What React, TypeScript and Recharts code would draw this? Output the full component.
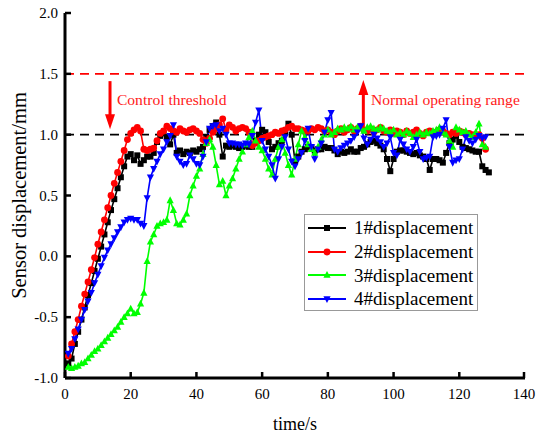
import React from 'react';
import { LineChart, Line, XAxis, YAxis, ReferenceLine, ReferenceDot, Legend } from 'recharts';

const FONT = '"Times New Roman", "Liberation Serif", Tinos, "DejaVu Serif", serif';

const startTime = 1;

const seriesNames = ['1#displacement', '2#displacement', '3#displacement', '4#displacement'];
const seriesColors = ['#000000', '#ff0000', '#00ff00', '#0000ff'];

const disp1 = [
  -0.88, -0.84, -0.72, -0.62, -0.52, -0.42, -0.32, -0.22, -0.12, -0.02,
  0.08, 0.18, 0.28, 0.38, 0.47, 0.56, 0.65, 0.74, 0.82, 0.84,
  0.79, 0.83, 0.76, 0.79, 0.82, 0.82, 0.85, 0.94, 0.99, 1.01,
  0.98, 0.92, 1.0, 0.85, 0.87, 0.84, 0.86, 0.85, 0.87, 0.86,
  0.88, 0.9, 0.98, 1.04, 1.07, 1.1, 1.0, 0.82, 0.91, 0.9,
  0.91, 0.9, 0.89, 0.9, 0.91, 0.9, 0.9, 0.95, 1.0, 1.04,
  1.02, 0.94, 0.88, 0.9, 0.93, 0.95, 1.02, 1.09, 1.0, 0.78,
  0.82, 0.86, 0.88, 0.9, 0.89, 0.87, 0.88, 0.88, 0.9, 0.89,
  0.89, 0.87, 0.84, 0.86, 0.85, 0.86, 0.88, 0.86, 0.86, 0.89,
  0.9, 0.92, 0.94, 0.95, 0.93, 0.91, 0.88, 0.8, 0.7, 0.8,
  0.86, 0.87, 0.87, 0.86, 0.85, 0.84, 0.85, 0.83, 0.82, 0.8,
  0.71, 0.8, 0.8, 0.79, 0.77, 0.85, 0.93, 0.96, 0.99, 0.94,
  0.9, 0.89, 0.88, 0.87, 0.86, 0.86, 0.74, 0.71, 0.69,
];

const disp2 = [
  -0.82, -0.72, -0.62, -0.52, -0.41, -0.31, -0.21, -0.11, -0.01, 0.1,
  0.2, 0.3, 0.4, 0.5, 0.6, 0.69, 0.78, 0.87, 0.96, 1.01,
  1.04, 1.06, 1.03, 0.88, 0.87, 0.88, 0.89, 0.95, 1.01, 1.03,
  1.07, 1.05, 1.03, 1.02, 1.05, 1.03, 1.02, 1.04, 1.05, 1.03,
  1.01, 0.96, 0.93, 0.97, 1.02, 1.05, 1.08, 1.13, 1.04, 1.08,
  1.06, 1.03, 1.05, 1.06, 1.05, 1.02, 0.91, 0.93, 0.95, 0.97,
  0.98, 0.99, 1.0, 1.02, 1.01, 1.03, 1.04, 1.06, 1.07, 1.05,
  1.05, 1.04, 1.03, 1.03, 1.05, 1.04, 1.06, 1.05, 1.03, 1.04,
  1.02, 1.0, 1.03, 1.05, 1.02, 1.04, 1.06, 1.03, 1.05, 1.07,
  1.04, 1.03, 1.05, 1.02, 1.04, 1.06, 1.03, 1.02, 1.04, 1.01,
  1.03, 1.02, 1.0, 1.03, 1.01, 1.02, 1.04, 1.01, 0.99, 1.02,
  1.03, 1.01, 1.02, 1.04, 1.03, 1.01, 1.0, 1.02, 1.01, 1.03,
  1.02, 1.0, 1.01, 1.0, 0.99, 1.0, 0.97, 0.88,
];

const disp3 = [
  -0.91, -0.92, -0.91, -0.9, -0.88, -0.87, -0.84, -0.81, -0.78, -0.76,
  -0.73, -0.7, -0.67, -0.64, -0.61, -0.58, -0.54, -0.5, -0.47, -0.43,
  -0.47, -0.46, -0.39, -0.3, -0.04, 0.12, 0.18, 0.25, 0.27, 0.28,
  0.3, 0.46, 0.38, 0.27, 0.26, 0.3, 0.35, 0.5, 0.58, 0.66,
  0.72, 0.84, 0.93, 0.96, 0.9, 0.75, 0.59, 0.62, 0.5, 0.58,
  0.64, 0.72, 0.8, 0.86, 0.92, 0.98, 1.03, 0.95, 0.9, 0.87,
  0.8, 0.72, 0.67, 0.8, 0.9, 0.96, 0.85, 0.75, 0.67, 0.8,
  0.92, 1.03, 0.98, 0.92, 0.88, 0.85, 0.9, 0.96, 1.0, 1.04,
  1.0, 1.02, 1.05, 1.04, 1.06, 1.05, 1.07, 1.04, 1.06, 1.05,
  1.03, 1.06, 1.07, 1.05, 1.04, 1.06, 1.05, 1.03, 1.02, 1.04,
  1.0, 1.02, 1.0, 1.03, 1.01, 0.98, 1.0, 1.02, 1.0, 1.02,
  1.01, 1.03, 1.04, 1.06, 1.02, 1.0, 0.95, 0.9, 1.06, 1.04,
  1.02, 1.03, 1.0, 0.98, 1.02, 1.09, 0.92, 0.9,
];

const disp4 = [
  -0.8, -0.76, -0.68, -0.6, -0.52, -0.44, -0.37, -0.3, -0.22, -0.15,
  -0.08, -0.01, 0.05, 0.1, 0.15, 0.2, 0.24, 0.28, 0.3, 0.31,
  0.3, 0.3, 0.27, 0.25, 0.48, 0.65, 0.72, 0.78, 0.84, 0.88,
  0.94, 0.99, 1.08, 0.82, 0.78, 0.75, 0.76, 0.83, 0.8, 0.76,
  0.75, 0.82, 0.94, 1.05, 1.07, 1.08, 1.03, 1.05, 1.0, 0.93,
  0.93, 0.92, 0.92, 0.91, 0.93, 0.92, 0.99, 1.1, 1.2, 0.95,
  0.88, 0.82, 0.75, 0.64, 0.8, 0.9, 0.98, 0.88, 0.78, 0.74,
  0.8, 0.85, 0.95, 1.05, 0.9, 0.8, 0.88, 0.93, 1.02, 1.12,
  1.18, 0.88, 0.86, 0.89, 0.91, 0.93, 0.95, 0.98, 1.02, 1.07,
  0.97, 0.92, 0.96, 1.0, 0.97, 0.94, 0.9, 0.93, 0.98, 0.85,
  0.83, 0.96, 0.92, 0.88, 0.86, 0.9, 0.96, 0.86, 0.8, 0.81,
  0.82, 0.98, 0.99, 1.0, 1.05, 1.12, 0.9, 0.77, 0.79, 0.8,
  0.88, 0.98, 0.95, 0.93, 0.96, 0.99, 0.97, 0.98,
];

const xTicks = [0, 20, 40, 60, 80, 100, 120, 140];
const yTicks = [-1.0, -0.5, 0.0, 0.5, 1.0, 1.5, 2.0];

const thresholdHigh = 1.5;
const thresholdLow = 1.0;

const allSeries = [disp1, disp2, disp3, disp4];
const maxLen = Math.max(...allSeries.map((s) => s.length));
const data = Array.from({ length: maxLen }, (_, i) => ({
  t: startTime + i,
  d1: disp1[i] ?? null,
  d2: disp2[i] ?? null,
  d3: disp3[i] ?? null,
  d4: disp4[i] ?? null,
}));

const markerShape = (idx: number, cx: number, cy: number, color: string, key?: any) => {
  if (cx == null || cy == null || isNaN(cx) || isNaN(cy)) return <g key={key} />;
  if (idx === 0) return <rect key={key} x={cx - 3} y={cy - 3} width={6} height={6} fill={color} />;
  if (idx === 1) return <circle key={key} cx={cx} cy={cy} r={3.4} fill={color} />;
  if (idx === 2)
    return <polygon key={key} points={`${cx},${cy - 4} ${cx - 3.6},${cy + 2.8} ${cx + 3.6},${cy + 2.8}`} fill={color} />;
  return <polygon key={key} points={`${cx},${cy + 4} ${cx - 3.6},${cy - 2.8} ${cx + 3.6},${cy - 2.8}`} fill={color} />;
};

const makeDot = (idx: number) => (props: any) =>
  markerShape(idx, props.cx, props.cy, seriesColors[idx], `dot-${idx}-${props.index}`);

const BottomTick = (props: any) => {
  const { x, y, payload } = props;
  return (
    <g>
      <line x1={x} y1={y} x2={x} y2={y - 6} stroke="#000" strokeWidth={2.5} />
      <text x={x} y={y + 21} textAnchor="middle" style={{ fontFamily: FONT, fontSize: 15 }} fill="#000">
        {payload.value}
      </text>
    </g>
  );
};

const TopTick = (props: any) => {
  const { x, y } = props;
  return <line x1={x} y1={y} x2={x} y2={y + 6} stroke="#000" strokeWidth={2.5} />;
};

const LeftTick = (props: any) => {
  const { x, y, payload } = props;
  return (
    <g>
      <line x1={x} y1={y} x2={x + 6} y2={y} stroke="#000" strokeWidth={2.5} />
      <text x={x - 7} y={y + 5} textAnchor="end" style={{ fontFamily: FONT, fontSize: 15 }} fill="#000">
        {Number(payload.value).toFixed(1)}
      </text>
    </g>
  );
};

const RightTick = (props: any) => {
  const { x, y } = props;
  return <line x1={x} y1={y} x2={x - 6} y2={y} stroke="#000" strokeWidth={2.5} />;
};

const LegendBox = () => (
  <div
    style={{
      border: '1px solid #999',
      background: '#fff',
      padding: '1px 2px',
      fontFamily: FONT,
      fontSize: 19,
      color: '#000',
      boxSizing: 'border-box',
      width: 174,
      height: 97,
      textAlign: 'left',
    }}
  >
    {seriesNames.map((name, i) => (
      <div key={name} style={{ display: 'flex', alignItems: 'center', height: 23.7 }}>
        <svg width={40} height={12} style={{ flex: 'none' }}>
          <line x1={1} y1={6} x2={39} y2={6} stroke={seriesColors[i]} strokeWidth={2} />
          {markerShape(i, 20, 6, seriesColors[i])}
        </svg>
        <span style={{ marginLeft: 7, lineHeight: '23px', whiteSpace: 'nowrap' }}>{name}</span>
      </div>
    ))}
  </div>
);

const ArrowHead = (dir: 'down' | 'up') => (props: any) => {
  const { cx, cy } = props;
  if (cx == null || cy == null) return <g />;
  const h = 15;
  const w = 5;
  const pts =
    dir === 'down'
      ? `${cx},${cy} ${cx - w},${cy - h} ${cx + w},${cy - h}`
      : `${cx},${cy} ${cx - w},${cy + h} ${cx + w},${cy + h}`;
  return <polygon points={pts} fill="#ff0000" />;
};

const TextMark = (text: string) => (props: any) => {
  const { cx, cy } = props;
  if (cx == null || cy == null) return <g />;
  return (
    <text x={cx} y={cy} style={{ fontFamily: FONT, fontSize: 15.6 }} fill="#ff2020">
      {text}
    </text>
  );
};

export default function App() {
  return (
    <div style={{ position: 'absolute', left: 0, top: 0, background: '#fff', fontFamily: FONT }}>
      <LineChart width={536} height={435} data={data} margin={{ top: 13, right: 11, bottom: 0, left: 0 }}>
        <XAxis
          dataKey="t"
          type="number"
          domain={[0, 140]}
          ticks={xTicks}
          height={57}
          tickSize={0}
          tickMargin={0}
          tick={BottomTick}
          axisLine={{ stroke: '#000', strokeWidth: 3 }}
          tickLine={false}
          allowDataOverflow
          label={(p: any) => {
            const vb = p.viewBox || {};
            return (
              <text x={vb.x + vb.width / 2} y={430} textAnchor="middle" style={{ fontFamily: FONT, fontSize: 18 }} fill="#000">
                time/s
              </text>
            );
          }}
        />
        <XAxis
          xAxisId="top"
          orientation="top"
          dataKey="t"
          type="number"
          domain={[0, 140]}
          ticks={xTicks}
          height={0}
          tickSize={0}
          tickMargin={0}
          tick={TopTick}
          axisLine={{ stroke: '#000', strokeWidth: 3 }}
          tickLine={false}
        />
        <YAxis
          type="number"
          domain={[-1, 2]}
          ticks={yTicks}
          width={65}
          tickSize={0}
          tickMargin={0}
          tick={LeftTick}
          axisLine={{ stroke: '#000', strokeWidth: 3 }}
          tickLine={false}
          allowDataOverflow
          label={(p: any) => {
            const vb = p.viewBox || {};
            const cy = vb.y + vb.height / 2;
            return (
              <text
                x={26}
                y={cy}
                transform={`rotate(-90, 26, ${cy})`}
                textAnchor="middle"
                style={{ fontFamily: FONT, fontSize: 20.5 }}
                fill="#000"
              >
                Sensor displacement/mm
              </text>
            );
          }}
        />
        <YAxis
          yAxisId="right"
          orientation="right"
          type="number"
          domain={[-1, 2]}
          ticks={yTicks}
          width={0}
          tickSize={0}
          tickMargin={0}
          tick={RightTick}
          axisLine={{ stroke: '#000', strokeWidth: 3 }}
          tickLine={false}
        />
        <ReferenceLine y={thresholdHigh} stroke="#ff0000" strokeWidth={1.6} strokeDasharray="9 6" />
        <ReferenceLine y={thresholdLow} stroke="#000000" strokeWidth={1.6} strokeDasharray="9 6" />

        <Line dataKey="d1" stroke={seriesColors[0]} strokeWidth={1.6} dot={makeDot(0)} isAnimationActive={false} />
        <Line dataKey="d2" stroke={seriesColors[1]} strokeWidth={1.6} dot={makeDot(1)} isAnimationActive={false} />
        <Line dataKey="d3" stroke={seriesColors[2]} strokeWidth={1.6} dot={makeDot(2)} isAnimationActive={false} />
        <Line dataKey="d4" stroke={seriesColors[3]} strokeWidth={1.6} dot={makeDot(3)} isAnimationActive={false} />

        <ReferenceLine
          segment={[
            { x: 13.7, y: 1.44 },
            { x: 13.7, y: 1.12 },
          ]}
          stroke="#ff0000"
          strokeWidth={3}
        />
        <ReferenceDot x={13.7} y={1.045} r={0} shape={ArrowHead('down')} />
        <ReferenceLine
          segment={[
            { x: 90.8, y: 1.065 },
            { x: 90.8, y: 1.37 },
          ]}
          stroke="#ff0000"
          strokeWidth={3}
        />
        <ReferenceDot x={90.8} y={1.45} r={0} shape={ArrowHead('up')} />
        <ReferenceDot x={15.8} y={1.24} r={0} shape={TextMark('Control threshold')} />
        <ReferenceDot x={93.1} y={1.245} r={0} shape={TextMark('Normal operating range')} />

        <Legend
          layout="horizontal"
          verticalAlign="middle"
          align="center"
          content={LegendBox}
          wrapperStyle={{ position: 'absolute', left: 304, top: 214, width: 174, height: 97, bottom: 'auto', right: 'auto' }}
        />
      </LineChart>
    </div>
  );
}
